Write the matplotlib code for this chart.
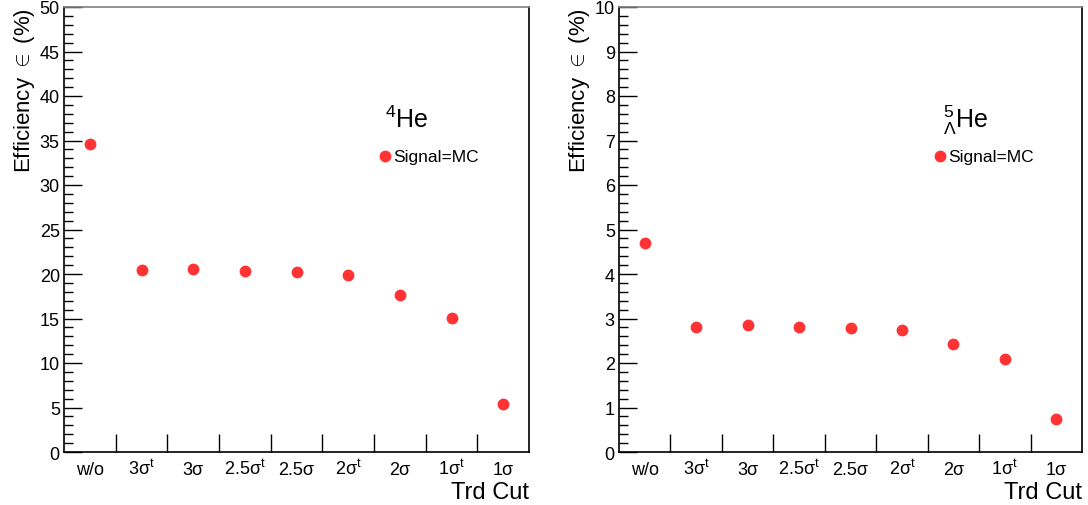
import matplotlib
matplotlib.use("Agg")
import matplotlib.pyplot as plt
from matplotlib.ticker import MultipleLocator, FixedLocator
import matplotlib.transforms as mtransforms
import numpy as np

plt.rcParams['font.family'] = ['Liberation Sans', 'DejaVu Sans']
plt.rcParams['mathtext.fontset'] = 'custom'
plt.rcParams['mathtext.rm'] = 'Liberation Sans'
plt.rcParams['mathtext.it'] = 'Liberation Sans'
plt.rcParams['mathtext.sf'] = 'Liberation Sans'
plt.rcParams['mathtext.fallback'] = 'cm'

categories = ['w/o', r'3σ$^{\mathrm{t}}$', '3σ', r'2.5σ$^{\mathrm{t}}$', '2.5σ',
              r'2σ$^{\mathrm{t}}$', '2σ', r'1σ$^{\mathrm{t}}$', '1σ']
eff_he4 = [34.6, 20.5, 20.6, 20.3, 20.2, 19.9, 17.6, 15.1, 5.4]
eff_he5l = [4.70, 2.82, 2.85, 2.80, 2.78, 2.75, 2.42, 2.08, 0.74]
titles = [r'$^{4}$He', r'$^{5}_{\Lambda}$He']
ymax = [50, 10]
ymajor = [5, 1]
yminor = [1, 0.2]
legend_label = 'Signal=MC'

red = '#ff3333'

fig = plt.figure(figsize=(10.88, 5.06), dpi=100)
axes_rects = [[64/1088, 1-453/506, 465/1088, 445/506],
              [619/1088, 1-453/506, 463/1088, 445/506]]

datasets = [eff_he4, eff_he5l]
title_x = [0.691, 0.70]
legend_x = [0.690, 0.693]
for k in range(2):
    ax = fig.add_axes(axes_rects[k])
    n = len(categories)
    x = np.arange(n) + 0.5
    ax.plot(x, datasets[k], 'o', color=red, markersize=8.5, markeredgewidth=0)
    ax.set_xlim(0, n)
    ax.set_ylim(0, ymax[k])
    ax.xaxis.set_major_locator(FixedLocator(np.arange(1, n)))
    ax.set_xticklabels([])
    ax.tick_params(axis='x', which='major', direction='in', length=13, width=1,
                   bottom=True, top=False, labelbottom=False)
    trans = mtransforms.blended_transform_factory(ax.transData, ax.transAxes)
    for xi, lab in zip(x, categories):
        ax.text(xi, -0.049, lab, transform=trans, ha='center', va='baseline', fontsize=13)
    ax.yaxis.set_major_locator(MultipleLocator(ymajor[k]))
    ax.yaxis.set_minor_locator(MultipleLocator(yminor[k]))
    ax.tick_params(axis='y', which='major', direction='in', length=13, width=1,
                   labelsize=13, pad=3, left=True, right=False)
    ax.tick_params(axis='y', which='minor', direction='in', length=6.5, width=1,
                   left=True, right=False)
    ax.spines['top'].set_color('#808080')
    for s in ax.spines.values():
        s.set_linewidth(1.2)
    ax.set_ylabel(r'Efficiency $\in$ (%)', fontsize=16, loc='top', labelpad=2)
    ax.set_xlabel('Trd Cut', fontsize=17, loc='right', labelpad=21)
    ax.text(title_x[k], 0.73, titles[k], transform=ax.transAxes, fontsize=18,
            ha='left', va='baseline')
    ax.plot([legend_x[k]], [0.665], 'o', color=red, markersize=8.5, markeredgewidth=0,
            transform=ax.transAxes, clip_on=False)
    ax.text(legend_x[k] + 0.018, 0.665, legend_label, transform=ax.transAxes, fontsize=12.5,
            ha='left', va='center')

fig.savefig('out.png', dpi=100)
